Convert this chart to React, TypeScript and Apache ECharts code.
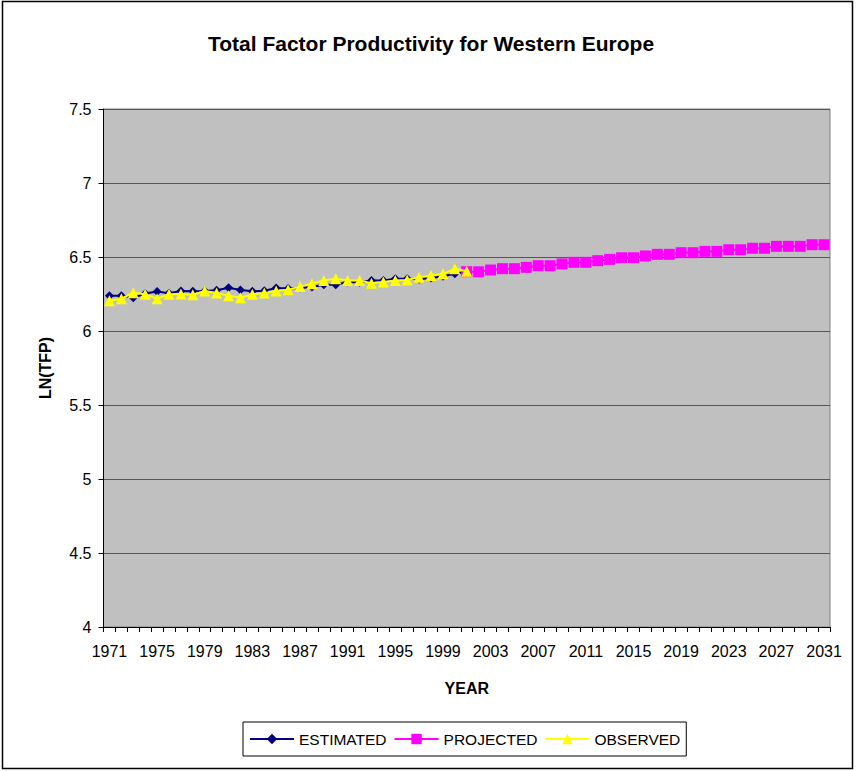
import React, { useEffect, useRef } from "react";
import * as echarts from "echarts";

const years: string[] = [
  "1971", "1972", "1973", "1974", "1975", "1976", "1977", "1978", "1979", "1980",
  "1981", "1982", "1983", "1984", "1985", "1986", "1987", "1988", "1989", "1990",
  "1991", "1992", "1993", "1994", "1995", "1996", "1997", "1998", "1999", "2000",
  "2001", "2002", "2003", "2004", "2005", "2006", "2007", "2008", "2009", "2010",
  "2011", "2012", "2013", "2014", "2015", "2016", "2017", "2018", "2019", "2020",
  "2021", "2022", "2023", "2024", "2025", "2026", "2027", "2028", "2029", "2030",
  "2031",
];

// 1971-2001
const estimated: number[] = [
  6.239, 6.239, 6.225, 6.253, 6.267, 6.255, 6.27, 6.268, 6.27, 6.275,
  6.292, 6.277, 6.268, 6.272, 6.29, 6.287, 6.29, 6.297, 6.313, 6.313,
  6.331, 6.33, 6.342, 6.342, 6.353, 6.353, 6.35, 6.358, 6.37, 6.387,
  6.4,
];

// 2001-2031
const projected: number[] = [
  6.401, 6.4, 6.412, 6.421, 6.421, 6.43, 6.441, 6.441, 6.453, 6.464,
  6.464, 6.475, 6.484, 6.495, 6.495, 6.507, 6.518, 6.518, 6.529, 6.529,
  6.538, 6.538, 6.549, 6.549, 6.559, 6.559, 6.572, 6.572, 6.572, 6.583,
  6.583,
];

// 1971-2001
const observed: number[] = [
  6.205, 6.218, 6.259, 6.248, 6.218, 6.248, 6.25, 6.245, 6.27, 6.257,
  6.239, 6.225, 6.248, 6.256, 6.27, 6.279, 6.3, 6.32, 6.342, 6.353,
  6.342, 6.342, 6.323, 6.331, 6.342, 6.345, 6.364, 6.375, 6.386, 6.42,
  6.404,
];

const projStart = years.indexOf("2001");

export default function App() {
  const ref = useRef<HTMLDivElement>(null);

  useEffect(() => {
    if (!ref.current) return;
    const chart = echarts.init(ref.current, undefined, { renderer: "svg" });
    const estData = years.map((_, i) => (i < estimated.length ? estimated[i] : null));
    const obsData = years.map((_, i) => (i < observed.length ? observed[i] : null));
    const projData = years.map((_, i) =>
      i >= projStart && i - projStart < projected.length ? projected[i - projStart] : null
    );
    const font = "'Liberation Sans', Arial, sans-serif";

    chart.setOption({
      animation: false,
      backgroundColor: "#ffffff",
      textStyle: { fontFamily: font },
      title: {
        text: "Total Factor Productivity for Western Europe",
        left: 426,
        top: 28,
        textAlign: "center",
        textStyle: { fontSize: 21, fontWeight: "bold", color: "#000", fontFamily: font },
      },
      graphic: [
        {
          type: "rect",
          shape: { x: 2.5, y: 1.5, width: 850, height: 767 },
          style: { fill: "none", stroke: "#000", lineWidth: 1.5 },
          z: 100,
        },
      ],
      legend: {
        left: 243,
        top: 722,
        orient: "horizontal",
        borderColor: "#000",
        borderWidth: 1,
        padding: [9, 6, 9, 6],
        itemWidth: 44,
        itemHeight: 13,
        itemGap: 7,
        textStyle: { fontSize: 15.5, color: "#000", fontFamily: font },
        data: ["ESTIMATED", "PROJECTED", "OBSERVED"],
      },
      grid: {
        left: 103.5,
        right: 26,
        top: 109,
        bottom: 144,
        show: true,
        backgroundColor: "#C0C0C0",
        borderColor: "#808080",
        borderWidth: 1,
      },
      xAxis: {
        type: "category",
        data: years,
        boundaryGap: true,
        name: "YEAR",
        nameLocation: "middle",
        nameGap: 53,
        nameTextStyle: { fontSize: 16, fontWeight: "bold", color: "#000", fontFamily: font },
        axisLine: { lineStyle: { color: "#000", width: 1 } },
        axisTick: { show: true, interval: 0, length: 5, lineStyle: { color: "#000" } },
        axisLabel: { interval: 3, fontSize: 16, color: "#000", margin: 16, fontFamily: font },
        splitLine: { show: false },
      },
      yAxis: {
        type: "value",
        min: 4,
        max: 7.5,
        interval: 0.5,
        name: "LN(TFP)",
        nameLocation: "middle",
        nameGap: 50,
        nameRotate: 90,
        nameTextStyle: { fontSize: 16, fontWeight: "bold", color: "#000", fontFamily: font },
        axisLine: { show: true, lineStyle: { color: "#000", width: 1 } },
        axisTick: { show: true, length: 5, lineStyle: { color: "#000" } },
        axisLabel: { fontSize: 16, color: "#000", margin: 12, fontFamily: font },
        splitLine: { show: true, lineStyle: { color: "#555555", width: 1.2 } },
      },
      series: [
        {
          name: "ESTIMATED",
          type: "line",
          data: estData,
          symbol: "diamond",
          symbolSize: 9,
          showAllSymbol: true,
          lineStyle: { color: "#000080", width: 2 },
          itemStyle: { color: "#000080" },
          z: 2,
        },
        {
          name: "PROJECTED",
          type: "line",
          data: projData,
          symbol: "rect",
          symbolSize: 11,
          showAllSymbol: true,
          lineStyle: { color: "#FF00FF", width: 2 },
          itemStyle: { color: "#FF00FF" },
          z: 3,
        },
        {
          name: "OBSERVED",
          type: "line",
          data: obsData,
          symbol: "triangle",
          symbolSize: [11, 11],
          showAllSymbol: true,
          lineStyle: { color: "#FFFF00", width: 2 },
          itemStyle: { color: "#FFFF00" },
          z: 4,
        },
      ],
    });
    return () => chart.dispose();
  }, []);

  return (
    <div
      ref={ref}
      style={{ position: "absolute", left: 0, top: 0, width: 856, height: 771 }}
    />
  );
}
